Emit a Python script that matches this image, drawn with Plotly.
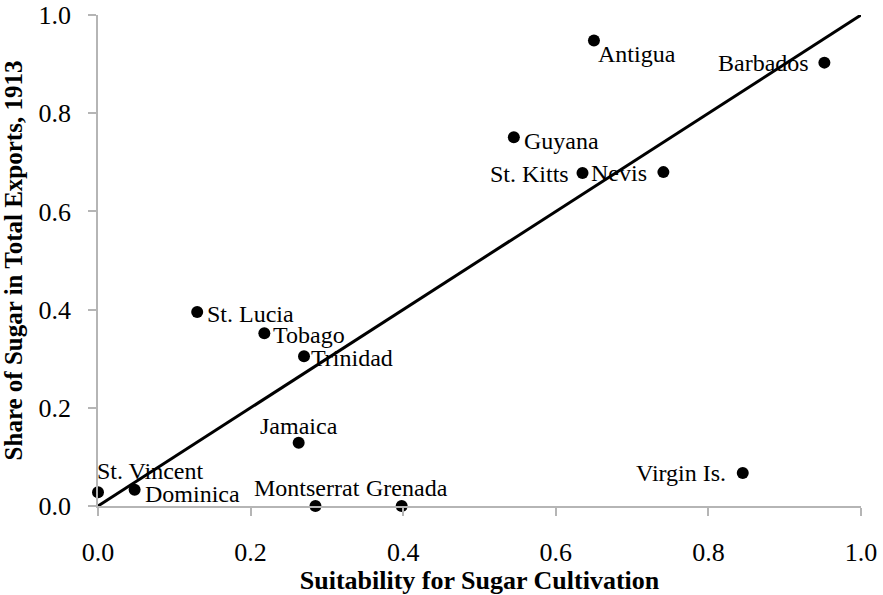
import plotly.graph_objects as go

names = ["St. Vincent", "Dominica", "Montserrat", "Grenada", "Jamaica",
         "St. Lucia", "Tobago", "Trinidad", "Guyana", "St. Kitts",
         "Nevis", "Antigua", "Barbados", "Virgin Is."]
suitability = [0.000, 0.048, 0.285, 0.398, 0.263,
               0.130, 0.218, 0.270, 0.545, 0.635,
               0.741, 0.650, 0.952, 0.845]
sugar_share = [0.028, 0.033, 0.000, 0.000, 0.129,
               0.395, 0.352, 0.305, 0.751, 0.678,
               0.680, 0.948, 0.903, 0.067]
fit_x = [0.0, 1.0]
fit_y = [0.0, 1.0]
ticks = [0.0, 0.2, 0.4, 0.6, 0.8, 1.0]
tick_labels = ["0.0", "0.2", "0.4", "0.6", "0.8", "1.0"]

# label placement style: (xanchor, yanchor, xshift, yshift)
label_style = {
    "St. Vincent": ("left", "middle", -3, 21),
    "Dominica": ("left", "middle", 8, -4),
    "Montserrat": ("center", "middle", -8, 18),
    "Grenada": ("center", "middle", 5, 18),
    "Jamaica": ("center", "middle", 0, 17),
    "St. Lucia": ("left", "middle", 8, -2),
    "Tobago": ("left", "middle", 7, -2),
    "Trinidad": ("left", "middle", 5, -2),
    "Guyana": ("left", "middle", 8, -4),
    "St. Kitts": ("right", "middle", -12, -1),
    "Nevis": ("right", "middle", -14, -1),
    "Antigua": ("left", "middle", 2, -13),
    "Barbados": ("right", "middle", -13, 0),
    "Virgin Is.": ("right", "middle", -15, 0),
}

FONT = "Liberation Serif"

fig = go.Figure()
fig.add_trace(go.Scatter(x=fit_x, y=fit_y, mode="lines",
                         line=dict(color="black", width=3),
                         hoverinfo="skip", showlegend=False, cliponaxis=False))
fig.add_trace(go.Scatter(x=suitability, y=sugar_share, mode="markers",
                         marker=dict(color="black", size=12),
                         text=names, showlegend=False, cliponaxis=False))

for n, xv, yv in zip(names, suitability, sugar_share):
    xa, ya, xs, ys = label_style[n]
    fig.add_annotation(x=xv, y=yv, text=n, showarrow=False,
                       xanchor=xa, yanchor=ya, xshift=xs, yshift=ys,
                       font=dict(family=FONT, size=24, color="black"))

axis_common = dict(range=[0, 1], tickvals=ticks, ticktext=tick_labels,
                   showgrid=False, zeroline=False, showline=True,
                   linecolor="#b5b5b5", linewidth=1.5, automargin=False,
                   ticklabeloverflow="allow",
                   ticks="outside", ticklen=8, tickwidth=1.5, tickcolor="#b5b5b5",
                   tickfont=dict(family=FONT, size=26, color="black"))

fig.update_layout(
    width=883, height=595,
    margin=dict(l=98, r=22, t=15, b=89),
    paper_bgcolor="white", plot_bgcolor="white",
    font=dict(family=FONT),
    xaxis=dict(**axis_common, ticklabelstandoff=14,
               title=dict(text="<b>Suitability for Sugar Cultivation</b>",
                          font=dict(family=FONT, size=26, color="black"),
                          standoff=16)),
    yaxis=dict(**axis_common, ticklabelstandoff=12,
               title=dict(text="<b>Share of Sugar in Total Exports, 1913</b>",
                          font=dict(family=FONT, size=25, color="black"),
                          standoff=10)),
)

fig.write_html("out.html", config={"displayModeBar": False},
               post_script="document.body.style.margin='0';document.body.style.overflow='hidden';")
